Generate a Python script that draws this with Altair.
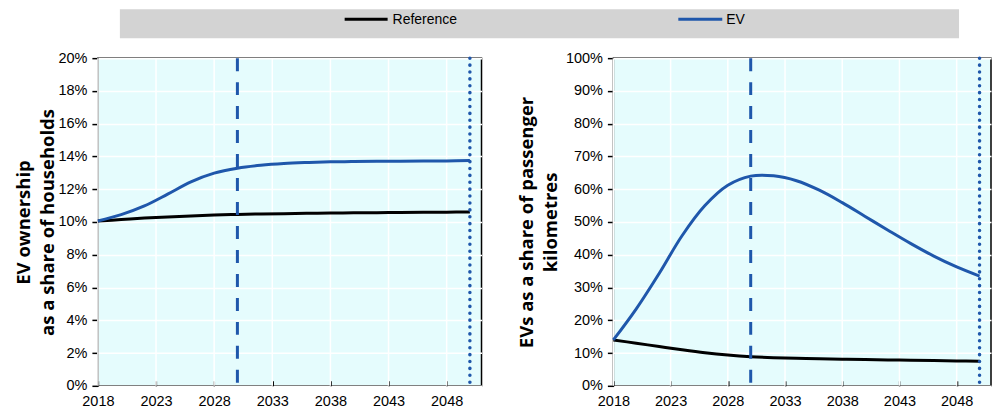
import altair as alt
import pandas as pd

# ---- data (values in %) ----
years = [2018, 2020, 2022, 2024, 2026, 2028, 2030, 2032, 2034, 2036, 2038, 2040, 2042, 2044, 2046, 2048, 2050]
hh_reference = [10.06, 10.15, 10.24, 10.31, 10.37, 10.42, 10.46, 10.49, 10.51, 10.53, 10.55, 10.56, 10.57, 10.58, 10.59, 10.60, 10.61]
hh_ev = [10.06, 10.45, 10.98, 11.70, 12.45, 12.98, 13.28, 13.46, 13.57, 13.63, 13.67, 13.69, 13.70, 13.71, 13.72, 13.73, 13.75]
pkm_reference = [14.0, 13.0, 12.0, 11.0, 10.1, 9.4, 8.9, 8.6, 8.4, 8.25, 8.1, 8.0, 7.9, 7.8, 7.7, 7.6, 7.5]
pkm_ev = [14.0, 23.5, 34.3, 45.8, 55.0, 61.2, 64.0, 64.1, 62.6, 59.7, 55.9, 51.7, 47.5, 43.4, 39.6, 36.3, 33.5]

series_names = ["Reference", "EV"]
series_colors = ["#000000", "#1F57AB"]
dashed_year = [2030]
dotted_year = [2050]
x_ticks = [2018, 2023, 2028, 2033, 2038, 2043, 2048]
left_ticks = [0, 0.02, 0.04, 0.06, 0.08, 0.10, 0.12, 0.14, 0.16, 0.18, 0.20]
right_ticks = [0, 0.1, 0.2, 0.3, 0.4, 0.5, 0.6, 0.7, 0.8, 0.9, 1.0]
left_title = ["EV ownership", "as a share of households"]
right_title = ["EVs as a share of passenger", "kilometres"]

BLUE = series_colors[1]
BG = "#E5FCFD"
LABEL_FONT = "Liberation Sans, Arial, sans-serif"
BOLD = "Open Sans, Liberation Sans, sans-serif"
LS = 14.5
LEFT_W, RIGHT_W, GAP, H = 384, 378, 132, 328


def long_df(ref, ev):
    rows = []
    for y, r, e in zip(years, ref, ev):
        rows.append({"year": y, "series": series_names[0], "value": r / 100})
        rows.append({"year": y, "series": series_names[1], "value": e / 100})
    return pd.DataFrame(rows)


def panel(df, yticks, ymax, title, title_pad):
    xscale = alt.Scale(domain=[2018, 2051], nice=False, zero=False)
    x = alt.X("year:Q", scale=xscale,
              axis=alt.Axis(values=x_ticks, format="d", title=None, grid=False,
                            domain=False, offset=-5, tickSize=5, tickColor="black",
                            tickWidth=1.5, labelPadding=9, labelFlush=False,
                            labelFont=LABEL_FONT, labelFontSize=LS, labelColor="black"))
    y = alt.Y("value:Q", scale=alt.Scale(domain=[0, ymax], nice=False),
              axis=alt.Axis(values=yticks, format=".0%", title=title, grid=True,
                            gridColor="white", gridWidth=1.5,
                            domain=False, tickSize=6, tickColor="black", tickWidth=1.5,
                            labelPadding=5, titlePadding=title_pad,
                            labelFont=LABEL_FONT, labelFontSize=LS, labelColor="black",
                            titleFont=BOLD, titleFontSize=18.5, titleFontWeight="bold",
                            titleColor="black", titleLineHeight=24))
    vgrid = alt.Chart(pd.DataFrame({"year": x_ticks})).mark_rule(
        color="white", strokeWidth=1.5).encode(x=alt.X("year:Q", scale=xscale))
    lines = alt.Chart(df).mark_line(strokeWidth=3, interpolate="catmull-rom").encode(
        x=x, y=y,
        color=alt.Color("series:N", scale=alt.Scale(domain=series_names, range=series_colors),
                        legend=None),
    )
    dashed = alt.Chart(pd.DataFrame({"year": dashed_year})).mark_rule(
        color=BLUE, strokeWidth=3, strokeDash=[13, 11]).encode(x=alt.X("year:Q", scale=xscale))
    dotted = alt.Chart(pd.DataFrame({"year": dotted_year})).mark_rule(
        color=BLUE, strokeWidth=3.5, strokeDash=[0.1, 6.8], strokeCap="round").encode(
        x=alt.X("year:Q", scale=xscale))
    return [vgrid, lines, dashed, dotted]


one = alt.Data(values=[{"k": 1}])

# banner legend (drawn above the left panel)
banner = alt.Chart(one).mark_rect(color="#D3D3D3").encode(
    x=alt.value(22), x2=alt.value(862), y=alt.value(-49), y2=alt.value(-20))
leg_ref_line = alt.Chart(one).mark_rule(color=series_colors[0], strokeWidth=3).encode(
    x=alt.value(247), x2=alt.value(290), y=alt.value(-39))
leg_ref_text = alt.Chart(one).mark_text(align="left", baseline="middle", fontSize=14,
                                        font=LABEL_FONT, color="black").encode(
    x=alt.value(295), y=alt.value(-38), text=alt.value(series_names[0]))
leg_ev_line = alt.Chart(one).mark_rule(color=series_colors[1], strokeWidth=3).encode(
    x=alt.value(581), x2=alt.value(625), y=alt.value(-39))
leg_ev_text = alt.Chart(one).mark_text(align="left", baseline="middle", fontSize=14,
                                       font=LABEL_FONT, color="black").encode(
    x=alt.value(629), y=alt.value(-38), text=alt.value(series_names[1]))

left_layers = panel(long_df(hh_reference, hh_ev), left_ticks, 0.2, left_title, 0)
right_layers = panel(long_df(pkm_reference, pkm_ev), right_ticks, 1.0, right_title, 5)

left = alt.layer(banner, leg_ref_line, leg_ref_text, leg_ev_line, leg_ev_text,
                 *left_layers).properties(width=LEFT_W, height=H)
right = alt.layer(*right_layers).properties(width=RIGHT_W, height=H)

chart = alt.hconcat(left, right, spacing=GAP, bounds="flush").properties(
    padding={"left": 6, "top": 0, "right": 0, "bottom": 0}, background="white"
).configure_view(
    fill=BG, stroke="black", strokeWidth=1.5
)

chart.save("out.html", embed_options={"renderer": "svg", "actions": False})
